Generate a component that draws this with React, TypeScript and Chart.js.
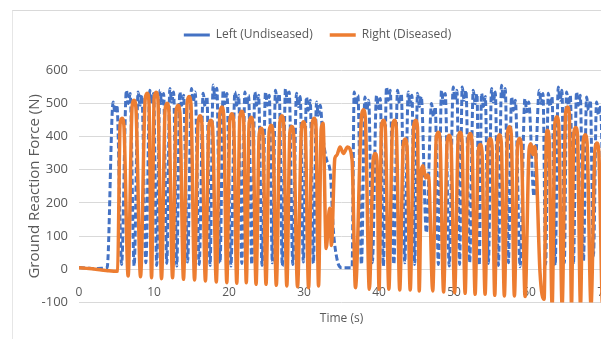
import React, { useEffect, useRef } from 'react';
import { Chart, registerables } from 'chart.js';

Chart.register(...registerables);

// ---- Data ----
const xTickValues = [0, 10, 20, 30, 40, 50, 60, 70];
const yTickValues = [-100, 0, 100, 200, 300, 400, 500, 600];

const seriesNames = ['Left (Undiseased)', 'Right (Diseased)'];

// Left (undiseased) foot: time (s)
const leftTime = [
  0, 1, 2, 3, 3.75,
  4.55, 4.8, 5.05, 5.68,
  6.32, 6.57, 6.82, 7.35,
  7.88, 8.13, 8.38, 8.91,
  9.44, 9.69, 9.94, 10.36,
  10.78, 11.03, 11.28, 11.7,
  12.11, 12.36, 12.61, 13.03,
  13.44, 13.69, 13.94, 14.47,
  14.99, 15.24, 15.49, 16.02,
  16.55, 16.8, 17.05, 17.47,
  17.88, 18.13, 18.38, 18.8,
  19.22, 19.47, 19.72, 20.25,
  20.78, 21.03, 21.28, 21.7,
  22.11, 22.36, 22.61, 23.03,
  23.44, 23.69, 23.94, 24.4,
  24.86, 25.11, 25.36, 25.78,
  26.19, 26.44, 26.69, 27.1,
  27.52, 27.77, 28.02, 28.5,
  28.99, 29.24, 29.49, 29.9,
  30.32, 30.57, 30.82, 31.24,
  31.66, 31.91, 32.16,
  32.5, 33.0, 33.5, 33.9, 34.4, 35.0, 36.4,
  36.68, 36.93, 37.18, 37.65,
  38.11, 38.36, 38.61, 39.1,
  39.66, 39.91, 40.16, 40.57,
  40.99, 41.24, 41.49, 41.97,
  42.46, 42.71, 42.96, 43.42,
  43.88, 44.13, 44.38, 44.75,
  45.12, 45.37, 45.62, 46.3,
  46.99, 47.24, 47.49, 47.9,
  48.32, 48.57, 48.82, 49.35,
  49.88, 50.13, 50.38, 50.73,
  51.08, 51.33, 51.58, 52.07,
  52.55, 52.8, 53.05, 53.35,
  53.66, 53.91, 54.16, 54.57,
  54.99, 55.24, 55.49, 55.9,
  56.32, 56.57, 56.82, 57.24,
  57.66, 57.91, 58.16, 58.8,
  59.44, 59.69, 59.94, 60.65,
  61.35, 61.6, 61.85, 62.2,
  62.55, 62.8, 63.05, 63.47,
  63.88, 64.13, 64.38, 64.7,
  64.99, 65.24, 65.49, 65.9,
  66.32, 66.57, 66.82, 67.24,
  67.66, 67.91, 68.16, 68.57,
  68.99, 69.24, 69.49, 70.0,
];
// Left (undiseased) foot: ground reaction force (N)
const leftForce = [
  6, 4, 2, 3, 5,
  504, 470, 495, 15,
  539, 499, 529, 10,
  534, 494, 524, 20,
  539, 499, 529, 12,
  539, 499, 529, 18,
  544, 504, 534, 10,
  534, 494, 524, 22,
  544, 504, 534, 15,
  530, 490, 520, 12,
  555, 515, 545, 20,
  539, 499, 529, 10,
  534, 494, 524, 18,
  534, 494, 524, 15,
  534, 494, 524, 12,
  534, 494, 524, 20,
  539, 499, 529, 10,
  544, 504, 534, 15,
  530, 490, 520, 22,
  519, 479, 509, 18,
  504, 464, 494,
  400, 330, 290, 120, 30, 5, 5,
  534, 494, 524, 15,
  519, 479, 509, 20,
  524, 484, 514, 10,
  549, 509, 539, 15,
  539, 499, 529, 20,
  534, 494, 524, 15,
  530, 490, 520, 110,
  499, 459, 489, 15,
  539, 499, 529, 10,
  549, 509, 539, 15,
  549, 509, 539, 20,
  539, 499, 529, 12,
  530, 490, 520, 18,
  544, 504, 534, 12,
  554, 514, 544, 20,
  519, 479, 509, 8,
  514, 474, 504, 220,
  539, 499, 529, 15,
  530, 490, 520, 12,
  549, 509, 539, 20,
  534, 494, 524, 15,
  534, 494, 524, 25,
  519, 479, 509, 40,
  504, 464, 494, 60,
];

// Right (diseased) foot: time (s)
const rightTime = [
  0, 1, 2, 3, 4, 4.9, 5.15,
  5.48, 5.73, 5.98, 6.55,
  7.08, 7.33, 7.58, 8.2,
  8.82, 9.07, 9.32, 9.67,
  10.02, 10.27, 10.52, 11.0,
  11.48, 11.73, 11.98, 12.47,
  12.95, 13.2, 13.45, 13.93,
  14.42, 14.67, 14.92, 15.4,
  15.88, 16.13, 16.38, 16.85,
  17.31, 17.56, 17.81, 18.3,
  18.78, 19.03, 19.28, 19.7,
  20.11, 20.36, 20.61, 21.03,
  21.44, 21.69, 21.94, 22.3,
  22.68, 22.93, 23.18, 23.6,
  24.02, 24.27, 24.52, 24.93,
  25.35, 25.6, 25.85, 26.3,
  26.78, 27.03, 27.28, 27.7,
  28.11, 28.36, 28.61, 29.13,
  29.66, 29.91, 30.16, 30.6,
  31.08, 31.33, 31.58, 31.93,
  32.28, 32.53,
  32.95, 33.4, 33.65, 34.1, 34.35, 34.8, 35.25, 35.8, 36.4, 36.85,
  37.66, 37.91, 38.16, 38.7,
  39.22, 39.47, 39.72, 40.0,
  40.32, 40.57, 40.82, 41.3,
  41.79, 42.04, 42.29, 42.75,
  43.22, 43.47, 43.72, 44.15,
  44.62, 44.87, 45.12, 45.35,
  45.65, 45.87, 46.2, 46.47, 46.65, 47.15,
  47.62, 47.87, 48.12, 48.6,
  49.08, 49.33, 49.58, 50.07,
  50.55, 50.8, 51.05, 51.47,
  51.88, 52.13, 52.38, 52.8,
  53.22, 53.47, 53.72, 54.13,
  54.55, 54.8, 55.05, 55.42,
  55.79, 56.04, 56.29, 56.7,
  57.12, 57.37, 57.62, 58.04,
  58.46, 58.71, 58.96, 59.47,
  60.0, 60.23, 60.5, 60.73, 60.9, 61.45, 62.0,
  62.3, 62.44, 62.65, 63.07,
  63.44, 63.69, 63.94, 64.4,
  64.86, 65.11, 65.36, 65.65,
  65.95, 66.2, 66.45, 66.85,
  67.22, 67.47, 67.72, 68.25,
  68.78, 69.03, 69.28, 69.8,
  70.5,
];
// Right (diseased) foot: ground reaction force (N)
const rightForce = [
  5, 3, 1, -2, -4, -6, -5,
  438, 455, 435, -20,
  490, 509, 488, -22,
  512, 530, 508, -25,
  515, 533, 512, -28,
  482, 500, 478, -25,
  476, 494, 472, -30,
  502, 520, 498, -32,
  444, 462, 440, -35,
  431, 449, 427, -38,
  471, 489, 467, -40,
  450, 468, 446, -42,
  458, 476, 454, -40,
  440, 458, 436, -45,
  407, 425, 403, -45,
  416, 434, 412, -48,
  444, 462, 440, -50,
  412, 430, 408, -52,
  426, 444, 422, -55,
  437, 455, 433, -50,
  422, 440,
  63, 184, 72, 334, 343, 368, 349, 368, 330, -55,
  462, 480, 458, -60,
  331, 349, 327, -60,
  431, 449, 427, -60,
  431, 449, 427, -62,
  374, 392, 370, -62,
  431, 449, 427, -65,
  300, 312, 275, 285, 270, -65,
  395, 413, 391, -68,
  386, 404, 382, -70,
  395, 413, 391, -72,
  391, 409, 387, -75,
  358, 376, 354, -75,
  376, 394, 372, -78,
  387, 405, 383, -80,
  411, 429, 407, -80,
  376, 394, 372, -82,
  362, 378, 345, 370, 340, -8, -90,
  400, 419, 400, -110,
  441, 459, 437, -110,
  471, 489, 467, -110,
  409, 427, 405, -110,
  387, 405, 383, -110,
  362, 380, 358, -110,
  300,
];

const FONT = "'Open Sans', 'Noto Sans', sans-serif";
const TEXT = '#595959';
const GRID = '#d9d9d9';

const legendTweak = {
  id: 'legendTweak',
  beforeLayout(chart: any) {
    const lg = chart.legend;
    if (lg && !lg.__patched) {
      const f = lg.fit;
      lg.fit = function () {
        f.call(this);
        this.height += 19;
      };
      lg.__patched = true;
    }
  },
  afterLayout(chart: any) {
    const lg = chart.legend;
    if (lg) {
      lg.left += 4;
      lg.right += 4;
    }
  },
};

export default function App() {
  const ref = useRef<HTMLCanvasElement>(null);

  useEffect(() => {
    const canvas = ref.current;
    if (!canvas) return;
    const leftData = leftTime.map((t, i) => ({ x: t, y: leftForce[i] }));
    const rightData = rightTime.map((t, i) => ({ x: t, y: rightForce[i] }));

    const chart = new Chart(canvas, {
      type: 'line',
      data: {
        datasets: [
          {
            label: seriesNames[0],
            data: leftData,
            borderColor: '#4472C4',
            backgroundColor: '#4472C4',
            borderWidth: 3,
            borderDash: [6, 3],
            pointRadius: 0,
            cubicInterpolationMode: 'monotone',
            order: 1,
          },
          {
            label: seriesNames[1],
            data: rightData,
            borderColor: '#ED7D31',
            backgroundColor: '#ED7D31',
            borderWidth: 3.5,
            pointRadius: 0,
            cubicInterpolationMode: 'monotone',
            order: 0,
          },
        ],
      },
      options: {
        responsive: false,
        animation: false,
        devicePixelRatio: 1,
        layout: { padding: { top: 12, left: 0, right: 0, bottom: 0 } },
        plugins: {
          legend: {
            position: 'top',
            labels: {
              usePointStyle: true,
              pointStyle: 'line',
              pointStyleWidth: 26,
              padding: 17,
              color: TEXT,
              font: { family: FONT, size: 12 },
              sort: (a: any, b: any) => a.datasetIndex - b.datasetIndex,
            },
          },
          tooltip: { enabled: false },
        },
        scales: {
          x: {
            type: 'linear',
            min: 0,
            max: 70,
            position: { y: 0 } as any,
            afterBuildTicks: (scale: any) => {
              scale.ticks = xTickValues.map((v) => ({ value: v }));
            },
            ticks: { color: TEXT, font: { family: FONT, size: 12 }, padding: 16, autoSkip: false, maxRotation: 0 },
            grid: { display: false, drawTicks: false },
            border: { display: false },
          },
          x2: {
            type: 'linear',
            position: 'bottom',
            min: 0,
            max: 70,
            ticks: { display: false },
            grid: { display: false, drawTicks: false },
            border: { display: false },
            title: {
              display: true,
              text: 'Time (s)',
              color: TEXT,
              font: { family: FONT, size: 12 },
              padding: { top: 9, bottom: 13 },
            },
          },
          y: {
            min: -100,
            max: 600,
            afterBuildTicks: (scale: any) => {
              scale.ticks = yTickValues.map((v) => ({ value: v }));
            },
            afterFit: (scale: any) => {
              scale.width = 79;
            },
            ticks: { color: TEXT, font: { family: FONT, size: 13 }, padding: 11 },
            grid: { color: GRID, drawTicks: false, lineWidth: 1 },
            border: { display: false },
            title: {
              display: true,
              text: 'Ground Reaction Force (N)',
              color: TEXT,
              font: { family: FONT, size: 15 },
              padding: { top: 26, bottom: 0 },
            },
          },
        },
      } as any,
      plugins: [legendTweak],
    });
    return () => chart.destroy();
  }, []);

  return (
    <div
      style={{
        position: 'fixed',
        left: 0,
        top: 0,
        width: 601,
        height: 339,
        overflow: 'hidden',
        background: '#ffffff',
      }}
    >
      <div
        style={{
          position: 'absolute',
          left: 12,
          top: 10,
          width: 700,
          height: 400,
          borderTop: '1px solid #d9d9d9',
          borderLeft: '1px solid #e6e6e6',
        }}
      />
      <canvas ref={ref} width={627} height={339} style={{ position: 'absolute', left: 0, top: 0 }} />
    </div>
  );
}
